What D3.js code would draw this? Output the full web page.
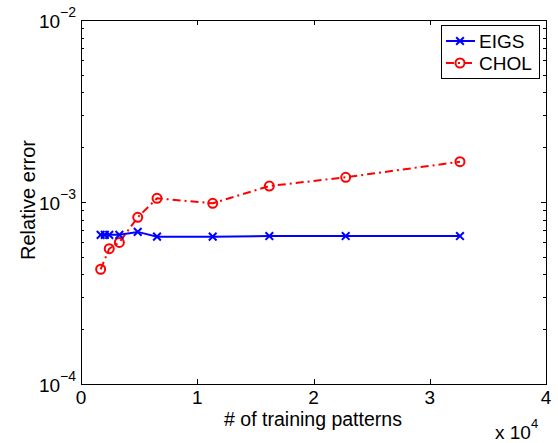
<!DOCTYPE html>
<html>
<head>
<meta charset="utf-8">
<script src="https://cdn.jsdelivr.net/npm/d3@7"></script>
<style>
  body { margin: 0; background: #fff; }
  text { font-family: "Liberation Sans", Arial, sans-serif; fill: #000; }
</style>
</head>
<body>
<svg id="chart" width="558" height="443"></svg>
<script>
// Training set sizes and relative errors for the two solvers
const eigsN   = [1690, 2050, 2430, 3300, 4880, 6540, 11330, 16200, 22770, 32600];
const eigsErr = [6.6e-4, 6.6e-4, 6.6e-4, 6.6e-4, 6.85e-4, 6.45e-4, 6.45e-4, 6.5e-4, 6.5e-4, 6.5e-4];
const cholN   = [1690, 2430, 3300, 4880, 6540, 11330, 16200, 22770, 32600];
const cholErr = [4.27e-4, 5.54e-4, 6.0e-4, 8.24e-4, 1.048e-3, 9.84e-4, 1.224e-3, 1.367e-3, 1.665e-3];
const xTicks  = [0, 10000, 20000, 30000, 40000];
const yTickExp = [-4, -3, -2];

const svg = d3.select("#chart");
const m = { left: 81, right: 546, top: 20, bottom: 384 };

const x = d3.scaleLinear().domain([0, 40000]).range([m.left, m.right]);
const y = d3.scaleLog().domain([1e-4, 1e-2]).range([m.bottom, m.top]);

// Axes box
svg.append("rect")
  .attr("x", m.left + 0.5).attr("y", m.top + 0.5)
  .attr("width", m.right - m.left).attr("height", m.bottom - m.top)
  .attr("fill", "none").attr("stroke", "#000").attr("stroke-width", 1);

// x ticks (inward, top and bottom)
const tickG = svg.append("g").attr("stroke", "#000").attr("stroke-width", 1);
xTicks.slice(1, -1).forEach(t => {
  const px = Math.round(x(t)) + 0.5;
  tickG.append("line").attr("x1", px).attr("x2", px).attr("y1", m.bottom).attr("y2", m.bottom - 5);
  tickG.append("line").attr("x1", px).attr("x2", px).attr("y1", m.top).attr("y2", m.top + 5);
});
// y ticks: decade and minor ticks, both sides
const minor = [];
[1e-4, 1e-3].forEach(d => { for (let k = 2; k <= 9; k++) minor.push(d * k); });
minor.concat([1e-3]).forEach(v => {
  const py = Math.round(y(v)) + 0.5;
  const len = (v === 1e-3) ? 5 : 3;
  tickG.append("line").attr("x1", m.left).attr("x2", m.left + len).attr("y1", py).attr("y2", py);
  tickG.append("line").attr("x1", m.right).attr("x2", m.right - len).attr("y1", py).attr("y2", py);
});

// x tick labels
svg.append("g").selectAll("text").data(xTicks).join("text")
  .attr("x", d => x(d)).attr("y", 404)
  .attr("text-anchor", "middle").attr("font-size", 19)
  .text(d => d / 10000);

// y tick labels 10^n
yTickExp.forEach(e => {
  const t = svg.append("text").attr("x", 76).attr("y", y(Math.pow(10, e)) + 8)
    .attr("text-anchor", "end").attr("font-size", 19);
  t.append("tspan").text("10");
  t.append("tspan").attr("dy", -11).attr("font-size", 14).text("\u2212" + (-e));
});

// axis titles
svg.append("text").attr("x", 313).attr("y", 426)
  .attr("text-anchor", "middle").attr("font-size", 19.5).text("# of training patterns");
svg.append("text").attr("transform", "translate(35,200) rotate(-90)")
  .attr("text-anchor", "middle").attr("font-size", 20).text("Relative error");
const mult = svg.append("text").attr("x", 495).attr("y", 439).attr("font-size", 19);
mult.append("tspan").text("x 10");
mult.append("tspan").attr("dy", -11).attr("font-size", 13).text("4");

// series lines
const line = d3.line().x(d => x(d[0])).y(d => y(d[1]));
const eigs = eigsN.map((n, i) => [n, eigsErr[i]]);
const chol = cholN.map((n, i) => [n, cholErr[i]]);

svg.append("path").datum(chol).attr("d", line)
  .attr("fill", "none").attr("stroke", "#ff0000").attr("stroke-width", 2)
  .attr("stroke-dasharray", "8,4,2,4");
svg.append("g").selectAll("circle").data(chol).join("circle")
  .attr("cx", d => x(d[0])).attr("cy", d => y(d[1])).attr("r", 4.5)
  .attr("fill", "none").attr("stroke", "#ff0000").attr("stroke-width", 2);

svg.append("path").datum(eigs).attr("d", line)
  .attr("fill", "none").attr("stroke", "#0000ff").attr("stroke-width", 2);
const cross = d3.symbol().type(d3.symbolX).size(40);
svg.append("g").selectAll("path").data(eigs).join("path")
  .attr("transform", d => `translate(${x(d[0])},${y(d[1])})`)
  .attr("d", cross).attr("fill", "none").attr("stroke", "#0000ff").attr("stroke-width", 2);

// legend
const lg = svg.append("g");
lg.append("rect").attr("x", 441.5).attr("y", 25.5).attr("width", 98).attr("height", 53)
  .attr("fill", "#fff").attr("stroke", "#000").attr("stroke-width", 1);
lg.append("line").attr("x1", 446).attr("x2", 475).attr("y1", 41).attr("y2", 41)
  .attr("stroke", "#0000ff").attr("stroke-width", 2);
lg.append("path").attr("transform", "translate(460,41)").attr("d", cross)
  .attr("fill", "none").attr("stroke", "#0000ff").attr("stroke-width", 2);
lg.append("text").attr("x", 479).attr("y", 48).attr("font-size", 19).text("EIGS");
lg.append("line").attr("x1", 446).attr("x2", 475).attr("y1", 63).attr("y2", 63)
  .attr("stroke", "#ff0000").attr("stroke-width", 2).attr("stroke-dasharray", "8,4,2,4");
lg.append("circle").attr("cx", 460).attr("cy", 63).attr("r", 4.5)
  .attr("fill", "none").attr("stroke", "#ff0000").attr("stroke-width", 2);
lg.append("text").attr("x", 479).attr("y", 70).attr("font-size", 19).text("CHOL");
</script>
</body>
</html>
